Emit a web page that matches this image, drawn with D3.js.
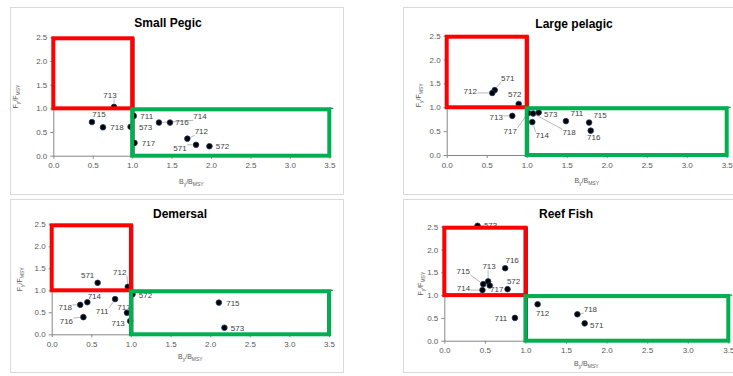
<!DOCTYPE html>
<html>
<head>
<meta charset="utf-8">
<script src="https://cdn.jsdelivr.net/npm/d3@7"></script>
<style>
  body { margin: 0; background: #fff; }
  svg { display: block; font-family: "Liberation Sans", Arial, sans-serif; }
</style>
</head>
<body>
<svg id="chart" width="733" height="376"></svg>
<script>
// tick values shared by all four panels
var xTicks = [0, 0.5, 1, 1.5, 2, 2.5, 3, 3.5];
var yTicks = [0, 0.5, 1, 1.5, 2, 2.5];

// Small Pegic
var smallCodes = ["713", "715", "718", "573", "711", "714", "716", "717", "712", "571", "572"];
var smallB = [0.77, 0.49, 0.63, 0.98, 1.02, 1.34, 1.48, 1.03, 1.70, 1.81, 1.98];
var smallF = [1.03, 0.71, 0.60, 0.61, 0.84, 0.70, 0.70, 0.27, 0.36, 0.23, 0.20];

// Large pelagic
var largeCodes = ["571", "712", "572", "713", "717", "714", "718", "573", "711", "715", "716"];
var largeB = [0.60, 0.57, 0.90, 0.82, 1.02, 1.07, 1.08, 1.15, 1.49, 1.78, 1.80];
var largeF = [1.36, 1.30, 1.07, 0.82, 0.88, 0.69, 0.87, 0.89, 0.71, 0.68, 0.51];

// Demersal
var demCodes = ["571", "712", "572", "714", "718", "711", "717", "716", "713", "715", "573"];
var demB = [0.58, 0.96, 1.02, 0.45, 0.36, 0.80, 0.95, 0.40, 0.99, 2.11, 2.18];
var demF = [1.17, 1.08, 0.91, 0.73, 0.67, 0.80, 0.49, 0.39, 0.30, 0.72, 0.15];

// Reef Fish
var reefCodes = ["573", "716", "713", "715", "717", "714", "572", "711", "712", "718", "571"];
var reefB = [0.41, 0.75, 0.54, 0.48, 0.56, 0.47, 0.78, 0.87, 1.15, 1.64, 1.73];
var reefF = [2.52, 1.59, 1.30, 1.24, 1.21, 1.11, 1.13, 0.50, 0.80, 0.58, 0.38];

// status zones (in B/Bmsy, F/Fmsy units)
var redZone = { b: [0, 1], f: [1, 2.5] };
var greenZone = { b: [1, 3.5], f: [0, 1] };

// label placement: [dx, dy, leader line?] relative to point, in pixels
var smallLabels = [[-4,-12,1],[7,-8,0],[14,0,0],[15,0,0],[13,0,0],[41,-6,1],[12,0,0],[14,0,0],[14,-7,1],[-16,3,1],[13,0,0]];
var largeLabels = [[13,-12,1],[-22,-2,1],[-4,-10,0],[-16,1,1],[-18,18,1],[10,13,1],[36,19,1],[12,2,0],[11,-8,0],[11,-7,0],[3,7,0]];
var demLabels = [[-10,-8,0],[-8,-15,1],[13,1,0],[7,-6,0],[-15,2,1],[-13,12,1],[-3,-6,0],[-17,4,1],[-12,2,0],[14,1,0],[13,0,0]];
var reefLabels = [[13,-1,1],[7,-8,0],[1,-15,1],[-20,-13,1],[7,4,0],[-19,-2,1],[6,-8,0],[-14,0,0],[5,9,0],[13,-5,1],[12,2,0]];

var panels = [
  { title: "Small Pegic", codes: smallCodes, B: smallB, F: smallF, lab: smallLabels,
    frame: [10, 7, 333, 187], xr: [53.3, 329.3], yr: [155.7, 37.3], titleX: 168, titleY: 27, xTitleY: 184, yTitleX: 18 },
  { title: "Large pelagic", codes: largeCodes, B: largeB, F: largeF, lab: largeLabels,
    frame: [403, 7, 340, 187], xr: [446.7, 726.7], yr: [155, 35.7], titleX: 574, titleY: 28, xTitleY: 183, yTitleX: 421 },
  { title: "Demersal", codes: demCodes, B: demB, F: demF, lab: demLabels,
    frame: [10, 199, 333, 173], xr: [51.7, 329], yr: [334.3, 224.3], titleX: 180, titleY: 218, xTitleY: 359, yTitleX: 22 },
  { title: "Reef Fish", codes: reefCodes, B: reefB, F: reefF, lab: reefLabels,
    frame: [403, 199, 340, 173], xr: [444.3, 728.3], yr: [340.7, 226.7], titleX: 566, titleY: 218, xTitleY: 366, yTitleX: 423 }
];

var svg = d3.select("#chart");

panels.forEach(function (p) {
  var x = d3.scaleLinear().domain([0, 3.5]).range(p.xr);
  var y = d3.scaleLinear().domain([0, 2.5]).range(p.yr);
  var g = svg.append("g");

  //panel frame
  g.append("rect")
    .attr("x", p.frame[0] + 0.5).attr("y", p.frame[1] + 0.5)
    .attr("width", p.frame[2]).attr("height", p.frame[3])
    .attr("fill", "#fff").attr("stroke", "#d9d9d9");

  //title
  g.append("text")
    .attr("x", p.titleX).attr("y", p.titleY)
    .attr("text-anchor", "middle")
    .style("font-size", "12px").style("font-weight", "bold").style("fill", "#000")
    .text(p.title);

  //axes
  var xAxis = g.append("g")
    .attr("transform", "translate(0," + y(0) + ")")
    .call(d3.axisBottom(x).tickValues(xTicks).tickFormat(d3.format(".1f")).tickSize(3).tickSizeOuter(0));
  var yAxis = g.append("g")
    .attr("transform", "translate(" + x(0) + ",0)")
    .call(d3.axisLeft(y).tickValues(yTicks).tickFormat(d3.format(".1f")).tickSize(3).tickSizeOuter(0));
  [xAxis, yAxis].forEach(function (a) {
    a.select(".domain").attr("stroke", "#868686");
    a.selectAll(".tick line").attr("stroke", "#868686");
    a.selectAll(".tick text").style("font-size", "8px").style("fill", "#595959")
      .style("font-family", "Liberation Sans, Arial, sans-serif");
  });
  xAxis.selectAll(".tick text").attr("y", 7);
  yAxis.selectAll(".tick text").attr("x", -6);

  //axis titles
  var xt = g.append("text")
    .attr("x", (p.xr[0] + p.xr[1]) / 2).attr("y", p.xTitleY)
    .attr("text-anchor", "middle")
    .style("font-size", "7px").style("fill", "#595959");
  xt.append("tspan").text("B");
  xt.append("tspan").attr("dy", 2).style("font-size", "5px").text("y");
  xt.append("tspan").attr("dy", -2).text("/B");
  xt.append("tspan").attr("dy", 2).style("font-size", "5px").text("MSY");

  var yt = g.append("text")
    .attr("transform", "translate(" + p.yTitleX + "," + (p.yr[0] + p.yr[1]) / 2 + ") rotate(-90)")
    .attr("text-anchor", "middle")
    .style("font-size", "7px").style("fill", "#595959");
  yt.append("tspan").text("F");
  yt.append("tspan").attr("dy", 2).style("font-size", "5px").text("y");
  yt.append("tspan").attr("dy", -2).text("/F");
  yt.append("tspan").attr("dy", 2).style("font-size", "5px").text("MSY");

  //reference lines at 1.0
  g.append("line")
    .attr("x1", x(0)).attr("x2", x(3.55)).attr("y1", y(1)).attr("y2", y(1))
    .attr("stroke", "#404040").attr("stroke-width", 1);
  g.append("line")
    .attr("x1", x(1) + 2).attr("x2", x(1) + 2).attr("y1", y(0)).attr("y2", y(2.5))
    .attr("stroke", "#404040").attr("stroke-width", 1);

  var pts = p.codes.map(function (c, i) { return { code: c, b: p.B[i], f: p.F[i], lab: p.lab[i] }; });

  //labels first so leaders can be measured
  var labels = g.selectAll(".lbl").data(pts).enter().append("text")
    .attr("class", "lbl")
    .attr("x", function (d) { return x(d.b) + d.lab[0]; })
    .attr("y", function (d) { return y(d.f) + d.lab[1]; })
    .attr("dy", "0.35em")
    .attr("text-anchor", "middle")
    .style("font-size", "8px").style("fill", "#404040")
    .text(function (d) { return d.code; });

  labels.each(function (d) {
    if (!d.lab[2]) return;
    var bb = this.getBBox();
    var px = x(d.b), py = y(d.f);
    var nx = Math.max(bb.x, Math.min(px, bb.x + bb.width));
    var ny = Math.max(bb.y + 1, Math.min(py, bb.y + bb.height - 1));
    var len = Math.hypot(nx - px, ny - py);
    if (len < 4) return;
    var sx = px + (nx - px) * 3.5 / len, sy = py + (ny - py) * 3.5 / len;
    g.insert("line", ".lbl")
      .attr("x1", sx).attr("y1", sy).attr("x2", nx).attr("y2", ny)
      .attr("stroke", "#a6a6a6").attr("stroke-width", 0.8);
  });

  //points
  g.selectAll(".pt").data(pts).enter().append("circle")
    .attr("class", "pt")
    .attr("cx", function (d) { return x(d.b); })
    .attr("cy", function (d) { return y(d.f); })
    .attr("r", 2.8)
    .attr("fill", "#000")
    .attr("stroke", "#1f3864").attr("stroke-width", 0.8);

  //zone boxes drawn on top
  [[redZone, "#ff0000"], [greenZone, "#00b050"]].forEach(function (z) {
    var zb = z[0];
    g.append("rect")
      .attr("x", x(zb.b[0])).attr("y", y(zb.f[1]) + 1)
      .attr("width", x(zb.b[1]) - x(zb.b[0]))
      .attr("height", y(zb.f[0]) - y(zb.f[1]) - 1)
      .attr("fill", "none").attr("stroke", z[1]).attr("stroke-width", 4);
  });
});
</script>
</body>
</html>
